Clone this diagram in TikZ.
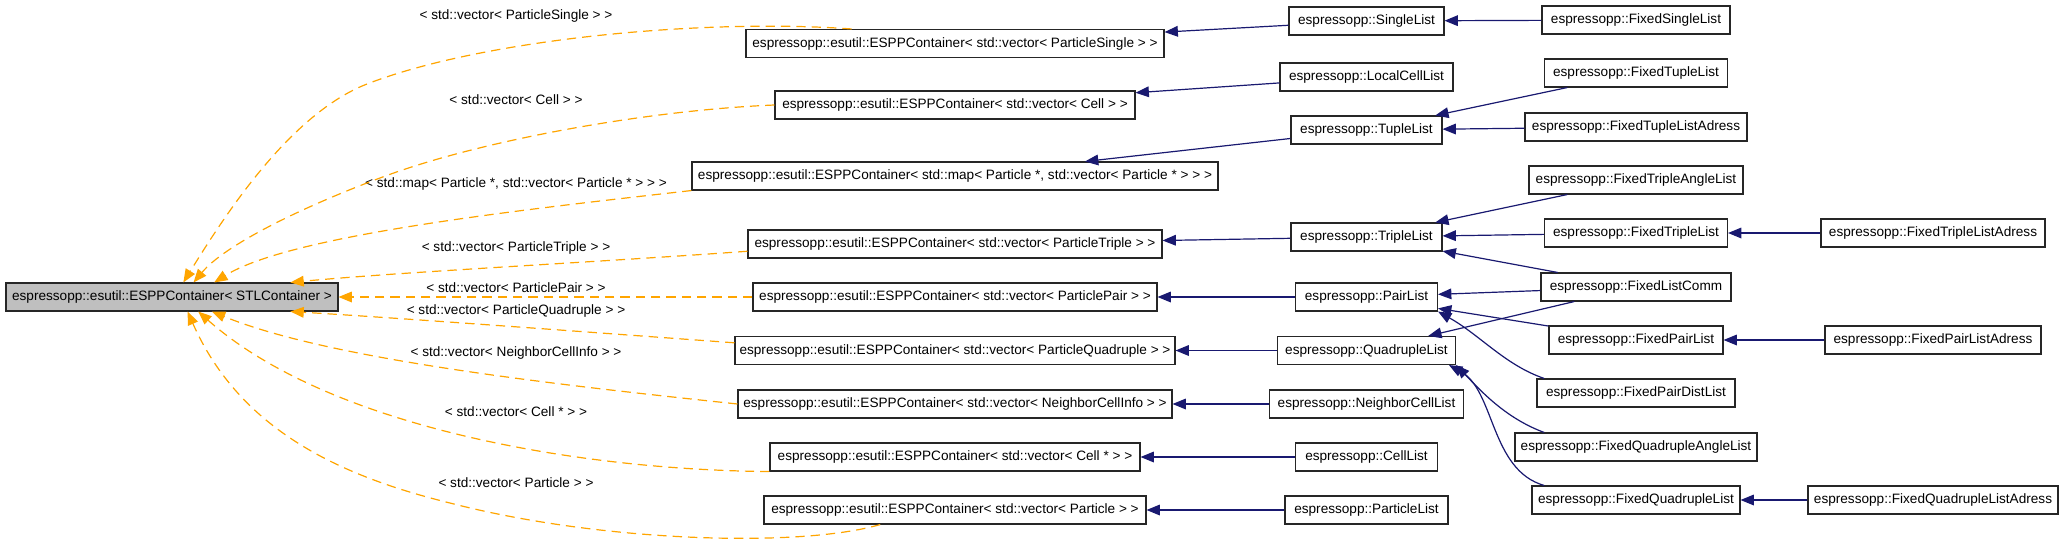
\documentclass[tikz,border=0pt]{standalone}
\usepackage{fontspec}
\setmainfont{Liberation Sans}
\usetikzlibrary{arrows.meta}
\definecolor{edgeblue}{RGB}{25,25,112}
\definecolor{edgeorange}{RGB}{255,165,0}
\tikzset{
  cls/.style={draw=black!85, line width=0.8pt, minimum height=21pt, inner xsep=1pt, inner ysep=2pt, font=\fontsize{10.2}{12}\selectfont},
  wd/.style={minimum width=#1*0.75pt},
  der/.style={draw=edgeblue, line width=0.9pt, -{Triangle[length=10pt,width=8pt]}},
  tmpl/.style={draw=edgeorange, line width=0.9pt, dash pattern=on 7pt off 4.5pt, -{Triangle[length=10pt,width=8pt]}},
  lbl/.style={font=\fontsize{10.2}{12}\selectfont, inner sep=1pt}
}

\begin{document}
\begin{tikzpicture}[x=0.75pt,y=-0.75pt]
\useasboundingbox (0,0) rectangle (2064,550);
% base class
\node[cls, wd=332, fill=black!25] (root) at (172,297) {espressopp::esutil::ESPPContainer< STLContainer >};
% container instantiations
\node[cls, wd=418] (espSingle) at (955,43.5) {espressopp::esutil::ESPPContainer< std::vector< ParticleSingle > >};
\node[cls, wd=360] (espCell) at (955,105) {espressopp::esutil::ESPPContainer< std::vector< Cell > >};
\node[cls, wd=526] (espMap) at (955,176) {espressopp::esutil::ESPPContainer< std::map< Particle *, std::vector< Particle * > > >};
\node[cls, wd=414] (espTriple) at (955,244) {espressopp::esutil::ESPPContainer< std::vector< ParticleTriple > >};
\node[cls, wd=404] (espPair) at (955,297) {espressopp::esutil::ESPPContainer< std::vector< ParticlePair > >};
\node[cls, wd=440] (espQuad) at (955,350.5) {espressopp::esutil::ESPPContainer< std::vector< ParticleQuadruple > >};
\node[cls, wd=434] (espNeighbor) at (955,404) {espressopp::esutil::ESPPContainer< std::vector< NeighborCellInfo > >};
\node[cls, wd=370] (espCellPtr) at (955,457) {espressopp::esutil::ESPPContainer< std::vector< Cell * > >};
\node[cls, wd=382] (espParticle) at (955,510) {espressopp::esutil::ESPPContainer< std::vector< Particle > >};
% storage classes
\node[cls, wd=155] (singleList) at (1366.5,21) {espressopp::SingleList};
\node[cls, wd=173] (localCellList) at (1366.5,77) {espressopp::LocalCellList};
\node[cls, wd=151] (tupleList) at (1366.5,130) {espressopp::TupleList};
\node[cls, wd=151] (tripleList) at (1366.5,237) {espressopp::TripleList};
\node[cls, wd=142] (pairList) at (1366.5,297) {espressopp::PairList};
\node[cls, wd=178] (quadList) at (1366.5,350.5) {espressopp::QuadrupleList};
\node[cls, wd=194] (neighborList) at (1366.5,404) {espressopp::NeighborCellList};
\node[cls, wd=142] (cellList) at (1366.5,457) {espressopp::CellList};
\node[cls, wd=163] (particleList) at (1366.5,510) {espressopp::ParticleList};
% fixed lists
\node[cls, wd=188] (fixedSingle) at (1636,20) {espressopp::FixedSingleList};
\node[cls, wd=183] (fixedTuple) at (1636,73) {espressopp::FixedTupleList};
\node[cls, wd=222] (fixedTupleAdr) at (1636,127) {espressopp::FixedTupleListAdress};
\node[cls, wd=214] (fixedTripleAngle) at (1636,180) {espressopp::FixedTripleAngleList};
\node[cls, wd=183] (fixedTriple) at (1636,233) {espressopp::FixedTripleList};
\node[cls, wd=190] (fixedComm) at (1636,287) {espressopp::FixedListComm};
\node[cls, wd=174] (fixedPair) at (1636,340) {espressopp::FixedPairList};
\node[cls, wd=198] (fixedPairDist) at (1636,393) {espressopp::FixedPairDistList};
\node[cls, wd=242] (fixedQuadAngle) at (1636,447) {espressopp::FixedQuadrupleAngleList};
\node[cls, wd=208] (fixedQuad) at (1636,500) {espressopp::FixedQuadrupleList};
% adress variants
\node[cls, wd=224] (fixedTripleAdr) at (1933,233) {espressopp::FixedTripleListAdress};
\node[cls, wd=216] (fixedPairAdr) at (1933,340) {espressopp::FixedPairListAdress};
\node[cls, wd=250] (fixedQuadAdr) at (1933,500) {espressopp::FixedQuadrupleListAdress};
% template arguments
\node[lbl] (lblSingle) at (516,16) {< std::vector< ParticleSingle > >};
\node[lbl] (lblCell) at (516,100) {< std::vector< Cell > >};
\node[lbl] (lblMap) at (516,184) {< std::map< Particle *, std::vector< Particle * > > >};
\node[lbl] (lblTriple) at (516,248) {< std::vector< ParticleTriple > >};
\node[lbl] (lblPair) at (516,288) {< std::vector< ParticlePair > >};
\node[lbl] (lblQuad) at (516,311) {< std::vector< ParticleQuadruple > >};
\node[lbl] (lblNeighbor) at (516,353) {< std::vector< NeighborCellInfo > >};
\node[lbl] (lblCellPtr) at (516,412) {< std::vector< Cell * > >};
\node[lbl] (lblParticle) at (516,483) {< std::vector< Particle > >};
% instantiation edges (dashed)
\draw[tmpl] (espSingle.172) .. controls (700,18) and (480,40) .. (367,84)
  .. controls (290,114) and (225,215) .. (root.52);
\draw[tmpl] (espCell.west) .. controls (650,110) and (480,140) .. (380,178)
  .. controls (300,208) and (225,245) .. (root.34);
\draw[tmpl] (espMap.south west) .. controls (520,210) and (290,235) .. (root.19);
\draw[tmpl] (espTriple.182) .. controls (600,262) and (400,272) .. (root.7);
\draw[tmpl] (espPair) -- (root);
\draw[tmpl] (espQuad.178) .. controls (600,333) and (400,318) .. (root.-7);
\draw[tmpl] (espNeighbor.west) .. controls (560,385) and (330,360) .. (root.-20);
\draw[tmpl] (espCellPtr.south west) .. controls (580,470) and (330,428) .. (root.-29);
\draw[tmpl] (espParticle.191) .. controls (800,548) and (600,542) .. (450,503)
  .. controls (340,476) and (240,430) .. (root.-43);
% inheritance edges
\draw[der] (singleList) -- (espSingle);
\draw[der] (localCellList) -- (espCell);
\draw[der] (tupleList) -- (espMap);
\draw[der] (tripleList) -- (espTriple);
\draw[der] (pairList) -- (espPair);
\draw[der] (quadList) -- (espQuad);
\draw[der] (neighborList) -- (espNeighbor);
\draw[der] (cellList) -- (espCellPtr);
\draw[der] (particleList) -- (espParticle);
\draw[der] (fixedSingle) -- (singleList);
\draw[der] (fixedTuple) -- (tupleList);
\draw[der] (fixedTupleAdr) -- (tupleList);
\draw[der] (fixedTripleAngle) -- (tripleList);
\draw[der] (fixedTriple) -- (tripleList);
\draw[der] (fixedComm) -- (tripleList);
\draw[der] (fixedComm) -- (pairList);
\draw[der] (fixedComm) -- (quadList);
\draw[der] (fixedPair) -- (pairList);
\draw[der] (fixedPairDist.171) .. controls (1505,365) and (1480,335) .. (pairList.south east);
\draw[der] (fixedQuadAngle.171) .. controls (1505,418) and (1480,390) .. (quadList.south east);
\draw[der] (fixedQuad.171) .. controls (1490,470) and (1495,390) .. (quadList.-10);
\draw[der] (fixedTripleAdr) -- (fixedTriple);
\draw[der] (fixedPairAdr) -- (fixedPair);
\draw[der] (fixedQuadAdr) -- (fixedQuad);
\end{tikzpicture}
\end{document}
